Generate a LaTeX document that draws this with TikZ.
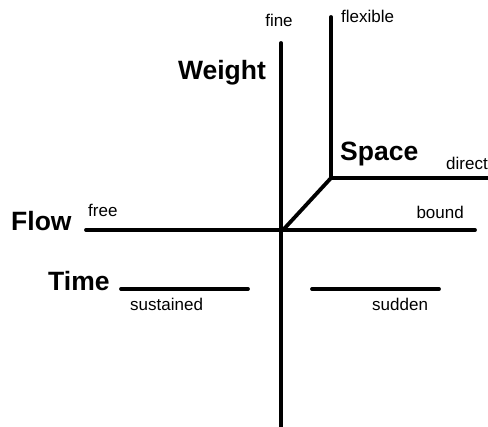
\documentclass[tikz,border=0pt]{standalone}
\usepackage{fontspec}
\setmainfont{Liberation Sans}
\begin{document}
\begin{tikzpicture}[x=1pt,y=-1pt,
  axis/.style={line width=3.8pt,line cap=round,line join=round},
  big/.style={font=\fontsize{26.5}{26.5}\selectfont\bfseries,inner sep=0pt},
  small/.style={font=\fontsize{17}{17}\selectfont,inner sep=0pt}]
\useasboundingbox (0,0) rectangle (488,427);
\begin{scope}
\clip (0,0) rectangle (488,427);
% coordinates
\coordinate (vtop) at (281,43);
\coordinate (vbot) at (281,440);
\coordinate (ftop) at (331,17);
\coordinate (fcor) at (331,178);
\coordinate (dend) at (495,178);
\coordinate (orig) at (283,230);
\coordinate (flowL) at (86,230);
\coordinate (flowR) at (475,230);
\coordinate (tL1) at (121,289);
\coordinate (tL2) at (248,289);
\coordinate (tR1) at (312,289);
\coordinate (tR2) at (439,289);
\draw[axis] (vtop) -- (vbot);
\draw[axis] (ftop) -- (fcor) -- (dend);
\draw[axis] (fcor) -- (orig);
\draw[axis] (flowL) -- (flowR);
\draw[axis] (tL1) -- (tL2);
\draw[axis] (tR1) -- (tR2);
% labels
\node[big,anchor=base] (weight) at (222,80) {Weight};
\node[big,anchor=base west] (space) at (340,161) {Space};
\node[big,anchor=base west] (flow) at (11,231) {Flow};
\node[big,anchor=base west] (time) at (48,291) {Time};
\node[small,anchor=base] (fine) at (279,27) {fine};
\node[small,anchor=base west] (flexible) at (341,23) {flexible};
\node[small,anchor=base west] (direct) at (446,170) {direct};
\node[small,anchor=base west] (free) at (88,217) {free};
\node[small,anchor=base east] (bound) at (464,219) {bound};
\node[small,anchor=base west] (sustained) at (130,311) {sustained};
\node[small,anchor=base west] (sudden) at (372,311) {sudden};
\end{scope}
\end{tikzpicture}
\end{document}
